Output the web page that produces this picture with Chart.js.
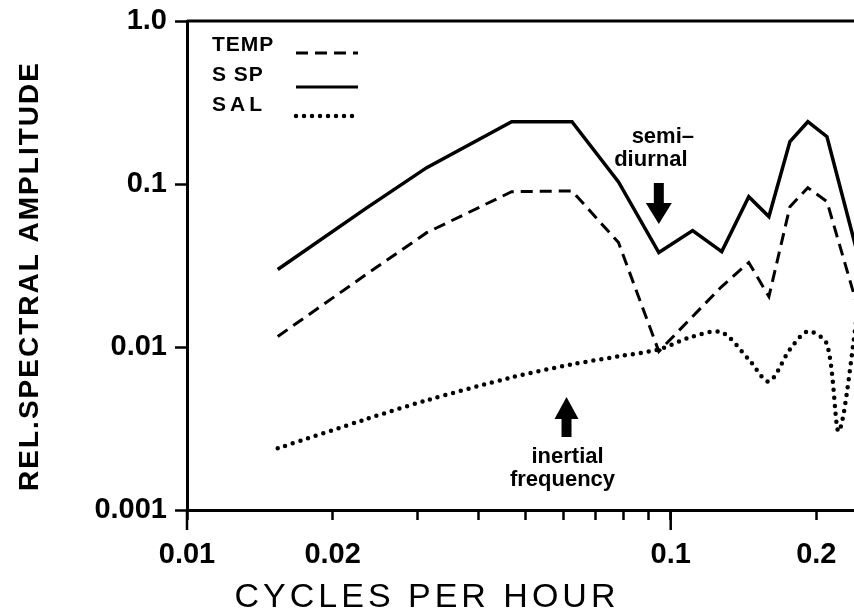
<!DOCTYPE html>
<html>
<head>
<meta charset="utf-8">
<script src="https://cdn.jsdelivr.net/npm/chart.js@4"></script>
<style>
  html, body { margin: 0; padding: 0; background: #fff; }
  #wrap { width: 854px; height: 614px; }
</style>
</head>
<body>
<div id="wrap"><canvas id="myChart" width="854" height="614"></canvas></div>
<script>
// frequencies (cycles per hour) and relative spectral amplitudes
const freq = [0.0154, 0.0234, 0.0313, 0.0469, 0.0625, 0.0780, 0.0945, 0.111, 0.1275, 0.145, 0.1596, 0.1764, 0.1921, 0.2104, 0.245];
const ssp  = [0.0299, 0.0706, 0.126, 0.241, 0.241, 0.103, 0.038, 0.0518, 0.0385, 0.0836, 0.0631, 0.182, 0.241, 0.195, 0.0346];
const temp = [0.0116, 0.0277, 0.0503, 0.0897, 0.0907, 0.0437, 0.0094, 0.0154, 0.0235, 0.033, 0.0204, 0.0726, 0.0949, 0.078, 0.0165];
const salFreq = [0.0154, 0.0234, 0.0313, 0.0469, 0.0625, 0.078, 0.0945, 0.111, 0.1275, 0.145, 0.1596, 0.1764, 0.1921, 0.2104, 0.2228, 0.245];
const sal     = [0.00239, 0.0036, 0.00471, 0.00651, 0.00782, 0.00876, 0.00967, 0.0116, 0.0123, 0.0084, 0.00615, 0.00967, 0.01246, 0.0104, 0.00304, 0.019];

const xTicks = [0.01, 0.02, 0.03, 0.04, 0.05, 0.06, 0.07, 0.08, 0.09, 0.1, 0.2];
const xLabels = { 0.01: '0.01', 0.02: '0.02', 0.1: '0.1', 0.2: '0.2' };
const yTicks = [0.001, 0.01, 0.1, 1];
const yLabels = { 0.001: '0.001', 0.01: '0.01', 0.1: '0.1', 1: '1.0' };

const semiFreq = 0.0945;
const inertialFreq = 0.0609;

const FONT = '"Liberation Sans", Arial, sans-serif';
Chart.defaults.font.family = FONT;
Chart.defaults.color = '#000';

const pts = (xs, ys) => xs.map((v, i) => ({ x: v, y: ys[i] }));

const extras = {
  id: 'extras',
  afterDraw(chart) {
    const { ctx, chartArea: { left, top, right, bottom }, scales: { x } } = chart;
    ctx.save();
    ctx.strokeStyle = '#000';
    ctx.fillStyle = '#000';

    // top frame line
    ctx.lineWidth = 3;
    ctx.beginPath();
    ctx.moveTo(left, top);
    ctx.lineTo(right, top);
    ctx.stroke();

    // long decade ticks on x axis
    ctx.lineWidth = 2.5;
    [0.01, 0.1].forEach(v => {
      const px = x.getPixelForValue(v);
      ctx.beginPath();
      ctx.moveTo(px, bottom);
      ctx.lineTo(px, bottom + 20);
      ctx.stroke();
    });

    // legend
    ctx.font = 'bold 21px ' + FONT;
    ctx.textBaseline = 'middle';
    ctx.textAlign = 'left';
    ctx.letterSpacing = '1px';
    ctx.fillText('TEMP', 212, 45);
    ctx.fillText('S SP', 212, 75);
    ctx.letterSpacing = '4px';
    ctx.fillText('SAL', 212, 105);
    ctx.letterSpacing = '0px';
    ctx.lineWidth = 3;
    ctx.setLineDash([12, 7]);
    ctx.beginPath(); ctx.moveTo(296, 53); ctx.lineTo(358, 53); ctx.stroke();
    ctx.setLineDash([]);
    ctx.beginPath(); ctx.moveTo(296, 87); ctx.lineTo(358, 87); ctx.stroke();
    ctx.lineWidth = 4.5;
    ctx.lineCap = 'round';
    ctx.setLineDash([0, 8]);
    ctx.beginPath(); ctx.moveTo(296, 116); ctx.lineTo(358, 116); ctx.stroke();
    ctx.setLineDash([]);
    ctx.lineCap = 'butt';

    // semi-diurnal annotation
    const sx = x.getPixelForValue(semiFreq);
    ctx.font = 'bold 22px ' + FONT;
    ctx.textAlign = 'center';
    ctx.fillText('semi\u2013', sx + 4, 137);
    ctx.fillText('diurnal', sx - 8, 160);
    ctx.fillRect(sx - 5, 183, 10, 22);
    ctx.beginPath();
    ctx.moveTo(sx - 13, 203); ctx.lineTo(sx + 13, 203); ctx.lineTo(sx, 224);
    ctx.closePath(); ctx.fill();

    // inertial frequency annotation
    const ix = x.getPixelForValue(inertialFreq);
    ctx.beginPath();
    ctx.moveTo(ix, 397); ctx.lineTo(ix - 12, 419); ctx.lineTo(ix + 12, 419);
    ctx.closePath(); ctx.fill();
    ctx.fillRect(ix - 5, 417, 10, 20);
    ctx.fillText('inertial', ix + 1, 457);
    ctx.fillText('frequency', ix - 4, 480);

    // axis titles
    ctx.font = '34px ' + FONT;
    ctx.letterSpacing = '4px';
    ctx.fillText('CYCLES PER HOUR', 427, 598);
    ctx.save();
    ctx.translate(30, 276);
    ctx.rotate(-Math.PI / 2);
    ctx.font = 'bold 28px ' + FONT;
    ctx.letterSpacing = '2px';
    ctx.fillText('REL.SPECTRAL AMPLITUDE', 0, 0);
    ctx.restore();
    ctx.restore();
  }
};

const ctx = document.getElementById('myChart').getContext('2d');
new Chart(ctx, {
  type: 'line',
  data: {
    datasets: [
      {
        label: 'TEMP',
        data: pts(freq, temp),
        borderColor: '#000',
        borderWidth: 3,
        borderDash: [12, 7],
        pointRadius: 0,
        tension: 0,
      },
      {
        label: 'S SP',
        data: pts(freq, ssp),
        borderColor: '#000',
        borderWidth: 3.5,
        pointRadius: 0,
        tension: 0,
      },
      {
        label: 'SAL',
        data: pts(salFreq, sal),
        borderColor: '#000',
        borderWidth: 4.5,
        borderDash: [0, 8],
        borderCapStyle: 'round',
        pointRadius: 0,
        tension: 0.3,
      }
    ]
  },
  options: {
    responsive: false,
    animation: false,
    events: [],
    layout: { padding: { top: 21, right: 0, left: 0, bottom: 0 } },
    plugins: { legend: { display: false }, tooltip: { enabled: false } },
    scales: {
      x: {
        type: 'logarithmic',
        min: 0.01,
        max: 0.2393,
        afterFit: s => { s.height = 104; s.paddingLeft = 0; s.paddingRight = 0; },
        afterBuildTicks: s => { s.ticks = xTicks.map(v => ({ value: v })); },
        border: { display: true, color: '#000', width: 3 },
        grid: { drawOnChartArea: false, tickLength: 10, tickColor: '#000', tickWidth: 2.5 },
        ticks: {
          autoSkip: false,
          maxRotation: 0,
          padding: 18,
          font: { size: 29, weight: 'bold' },
          callback: v => xLabels[v] || '',
        },
      },
      y: {
        type: 'logarithmic',
        min: 0.001,
        max: 1,
        afterFit: s => { s.width = 187; s.paddingTop = 0; s.paddingBottom = 0; },
        afterBuildTicks: s => { s.ticks = yTicks.map(v => ({ value: v })); },
        border: { display: true, color: '#000', width: 3 },
        grid: { drawOnChartArea: false, tickLength: 12, tickColor: '#000', tickWidth: 2.5 },
        ticks: {
          padding: 8,
          font: { size: 29, weight: 'bold' },
          callback: v => yLabels[v] || '',
        },
      }
    }
  },
  plugins: [extras]
});
</script>
</body>
</html>
